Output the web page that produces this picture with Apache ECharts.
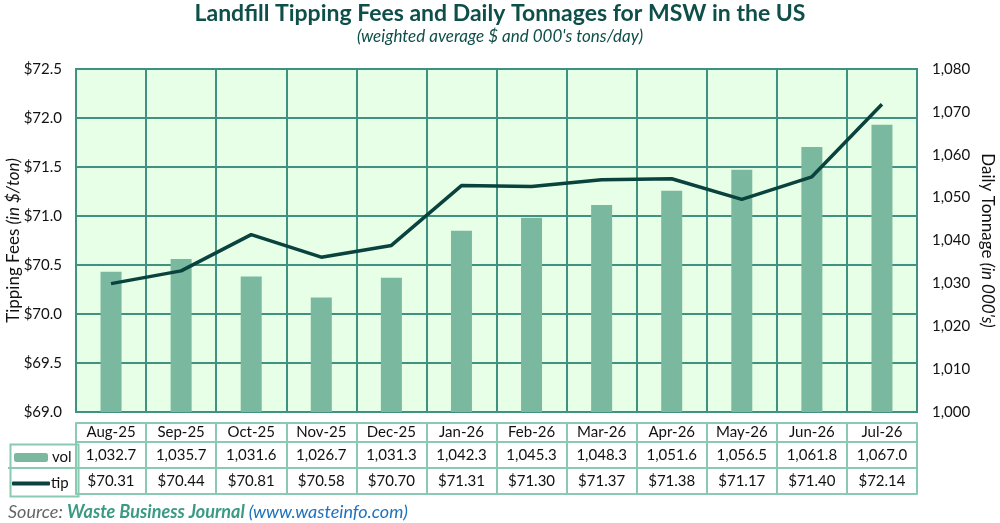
<!DOCTYPE html>
<html>
<head>
<meta charset="UTF-8">
<title>Landfill Tipping Fees</title>
<script src="https://cdn.jsdelivr.net/npm/echarts@6/dist/echarts.min.js"></script>
<style>
  html, body { margin: 0; padding: 0; background: #fff; }
  #chart { width: 1000px; height: 523px; }
</style>
</head>
<body>
<div id="chart"></div>
<script>
var months = ['Aug-25', 'Sep-25', 'Oct-25', 'Nov-25', 'Dec-25', 'Jan-26', 'Feb-26', 'Mar-26', 'Apr-26', 'May-26', 'Jun-26', 'Jul-26'];
var vol = [1032.7, 1035.7, 1031.6, 1026.7, 1031.3, 1042.3, 1045.3, 1048.3, 1051.6, 1056.5, 1061.8, 1067.0];
var tip = [70.31, 70.44, 70.81, 70.58, 70.70, 71.31, 71.30, 71.37, 71.38, 71.17, 71.40, 72.14];

var FONT = 'Lato, "Open Sans", sans-serif';
var gridCol = '#3f9282';
var tableCol = '#8bcab2';
var barCol = '#7ab9a0';
var lineCol = '#0a423d';
var titleCol = '#0f4f4a';

function fmtVol(v) {
    return v.toFixed(1).replace(/\B(?=(\d{3})+(?!\d))/g, ',');
}

// one bottom axis per table row: axis line = top border, ticks = cell walls
function tableRow(offset, h, fmt) {
    return {
        type: 'category',
        data: months,
        position: 'bottom',
        offset: offset,
        axisLine: { show: true, lineStyle: { color: tableCol, width: 2 } },
        axisTick: { show: !!h, length: h, interval: 0, lineStyle: { color: tableCol, width: 2 } },
        axisLabel: {
            show: !!fmt, interval: 0, margin: h / 2, verticalAlign: 'middle',
            fontFamily: FONT, fontSize: 15, color: '#111',
            formatter: fmt || ''
        },
        splitLine: { show: false }
    };
}

var chart = echarts.init(document.getElementById('chart'));

var option = {
    animation: false,
    textStyle: { fontFamily: FONT },
    title: {
        text: 'Landfill Tipping Fees and Daily Tonnages for MSW in the US',
        subtext: "(weighted average $ and 000's tons/day)",
        left: 'center',
        top: -3,
        itemGap: 3,
        textStyle: { fontFamily: FONT, fontSize: 23, fontWeight: 'bold', color: titleCol },
        subtextStyle: { fontFamily: FONT, fontSize: 17, fontStyle: 'italic', color: titleCol }
    },
    legend: [
        {
            data: ['vol'], left: 14, top: 450, padding: 0, itemWidth: 34, itemHeight: 9, itemGap: 0,
            selectedMode: false,
            textStyle: { fontFamily: FONT, fontSize: 15, color: '#111', padding: [0, 0, 0, -1] }
        },
        {
            data: [{ name: 'tip', icon: 'roundRect' }], left: 12, top: 476, padding: 0, itemWidth: 38, itemHeight: 4, itemGap: 0,
            selectedMode: false,
            textStyle: { fontFamily: FONT, fontSize: 15, color: '#111', padding: [0, 0, 0, -4] }
        }
    ],
    grid: {
        left: 76, right: 83, top: 69, bottom: 111,
        outerBoundsMode: 'none',
        show: true, backgroundColor: '#e6ffe6', borderColor: gridCol, borderWidth: 2
    },
    xAxis: [
        {
            type: 'category',
            data: months,
            axisLine: { show: false },
            axisTick: { show: false },
            axisLabel: { show: false },
            splitLine: { show: true, interval: 0, lineStyle: { color: gridCol, width: 2 } }
        },
        tableRow(11, 19, function (v) { return v; }),
        tableRow(30, 26, function (v, i) { return fmtVol(vol[i]); }),
        tableRow(56, 26, function (v, i) { return '$' + tip[i].toFixed(2); }),
        tableRow(82, 0, null)
    ],
    yAxis: [
        {
            type: 'value',
            min: 69, max: 72.5, interval: 0.5,
            axisLine: { show: false },
            axisTick: { show: false },
            axisLabel: {
                margin: 14, fontFamily: FONT, fontSize: 15, color: '#111',
                formatter: function (v) { return '$' + v.toFixed(1); }
            },
            splitLine: { show: true, lineStyle: { color: gridCol, width: 2 } },
            name: '{a|Tipping Fees }{b|(in $/ton)}',
            nameLocation: 'middle',
            nameGap: 54,
            nameMoveOverlap: false,
            nameTextStyle: {
                rich: {
                    a: { fontFamily: FONT, fontSize: 17, color: '#111' },
                    b: { fontFamily: FONT, fontSize: 17, color: '#111', fontStyle: 'italic' }
                }
            }
        },
        {
            type: 'value',
            min: 1000, max: 1080, interval: 10,
            position: 'right',
            axisLine: { show: false },
            axisTick: { show: false },
            axisLabel: {
                margin: 15, fontFamily: FONT, fontSize: 15, color: '#111',
                formatter: function (v) { return v.toLocaleString('en-US'); }
            },
            splitLine: { show: false },
            name: "{a|Daily Tonnage }{b|(in 000's)}",
            nameLocation: 'middle',
            nameGap: 62,
            nameRotate: -90,
            nameMoveOverlap: false,
            nameTextStyle: {
                rich: {
                    a: { fontFamily: FONT, fontSize: 17, color: '#111' },
                    b: { fontFamily: FONT, fontSize: 17, color: '#111', fontStyle: 'italic' }
                }
            }
        }
    ],
    graphic: [
        // left column of the data table (legend keys)
        {
            type: 'rect', left: 8, top: 442, z: 5,
            shape: { width: 68, height: 52 },
            style: { fill: 'none', stroke: tableCol, lineWidth: 2 }
        },
        {
            type: 'line', z: 5,
            shape: { x1: 8, y1: 468, x2: 76, y2: 468 },
            style: { stroke: tableCol, lineWidth: 2 }
        },
        {
            type: 'text', left: 8, top: 503,
            style: {
                text: '{s|Source: }{w|Waste Business Journal }{u|(www.wasteinfo.com)}',
                rich: {
                    s: { fontFamily: FONT, fontSize: 18, fontStyle: 'italic', fill: '#666' },
                    w: { fontFamily: FONT, fontSize: 18, fontStyle: 'italic', fontWeight: 'bold', fill: '#3a9a84' },
                    u: { fontFamily: FONT, fontSize: 18, fontStyle: 'italic', fill: '#1f72bd' }
                }
            }
        }
    ],
    series: [
        {
            name: 'vol',
            type: 'bar',
            yAxisIndex: 1,
            barWidth: 21,
            itemStyle: { color: barCol },
            data: vol
        },
        {
            name: 'tip',
            type: 'line',
            yAxisIndex: 0,
            symbol: 'none',
            lineStyle: { color: lineCol, width: 3.5 },
            itemStyle: { color: lineCol },
            z: 5,
            data: tip
        }
    ]
};

chart.setOption(option);
</script>
</body>
</html>
